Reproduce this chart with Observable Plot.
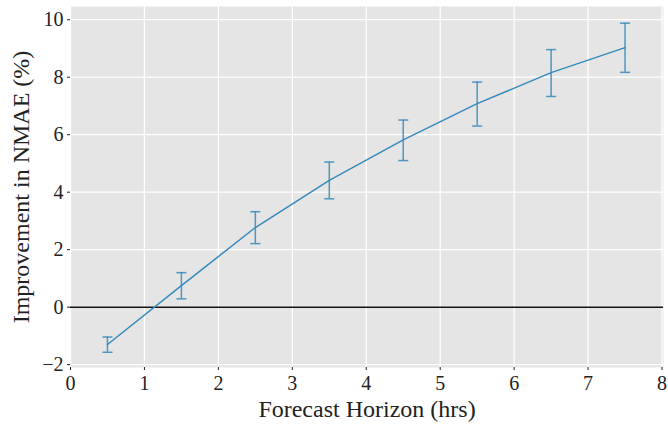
<!DOCTYPE html>
<html><head><meta charset="utf-8">
<script src="https://cdn.jsdelivr.net/npm/d3@7"></script>
<script src="https://cdn.jsdelivr.net/npm/@observablehq/plot@0.6"></script>
<style>body{margin:0;background:#fff;} svg{display:block;}</style>
</head><body><div id="chart"></div>
<script>
const horizons = [0.5, 1.5, 2.5, 3.5, 4.5, 5.5, 6.5, 7.5];
const improvement = [-1.3, 0.75, 2.77, 4.41, 5.82, 7.08, 8.16, 9.03];
const errLow = [-1.57, 0.29, 2.21, 3.77, 5.10, 6.30, 7.33, 8.17];
const errHigh = [-1.04, 1.20, 3.32, 5.05, 6.51, 7.83, 8.96, 9.88];
const xTicks = [0, 1, 2, 3, 4, 5, 6, 7, 8];
const yTicks = [-2, 0, 2, 4, 6, 8, 10];

const data = horizons.map((h, i) => ({x: h, y: improvement[i], lo: errLow[i], hi: errHigh[i]}));
const capHalf = 0.068;
const blue = "#348ABD";
const font = "'Liberation Serif', 'DejaVu Serif', serif";

const chart = Plot.plot({
  width: 668, height: 427,
  marginLeft: 70, marginRight: 5, marginTop: 6, marginBottom: 60,
  style: {fontFamily: font, fontSize: "20px", color: "#222", background: "#fff"},
  x: {domain: [0, 8.02], label: null},
  y: {domain: [-2.1, 10.46], label: null},
  marks: [
    Plot.frame({fill: "#e5e5e5", stroke: null}),
    Plot.gridX(xTicks, {stroke: "#fff", strokeOpacity: 1, strokeWidth: 1.3}),
    Plot.gridY(yTicks, {stroke: "#fff", strokeOpacity: 1, strokeWidth: 1.3}),
    Plot.axisX(xTicks, {tickSize: 3, tickPadding: 5, tickFormat: d => String(d), label: null, fontSize: 20}),
    Plot.axisY(yTicks, {tickSize: 3, tickPadding: 4, tickFormat: d => d < 0 ? "\u2212" + Math.abs(d) : String(d), label: null, fontSize: 20}),
    Plot.ruleY([0], {stroke: "#111", strokeWidth: 1.5}),
    Plot.line(data, {x: "x", y: "y", stroke: blue, strokeWidth: 1.5}),
    Plot.ruleX(data, {x: "x", y1: "lo", y2: "hi", stroke: blue, strokeWidth: 1.5, strokeOpacity: 0.85}),
    Plot.link(data, {x1: d => d.x - capHalf, x2: d => d.x + capHalf, y1: "lo", y2: "lo", stroke: blue, strokeWidth: 1.5, strokeOpacity: 0.85}),
    Plot.link(data, {x1: d => d.x - capHalf, x2: d => d.x + capHalf, y1: "hi", y2: "hi", stroke: blue, strokeWidth: 1.5, strokeOpacity: 0.85}),
    Plot.text(["Forecast Horizon (hrs)"], {frameAnchor: "bottom", textAnchor: "middle", lineAnchor: "middle", dy: 42, fontSize: 24, fill: "#222"}),
    Plot.text(["Improvement in NMAE (%)"], {frameAnchor: "left", textAnchor: "middle", lineAnchor: "middle", rotate: -90, dx: -49, fontSize: 24, fill: "#222"})
  ]
});
document.getElementById("chart").appendChild(chart);
</script></body></html>
